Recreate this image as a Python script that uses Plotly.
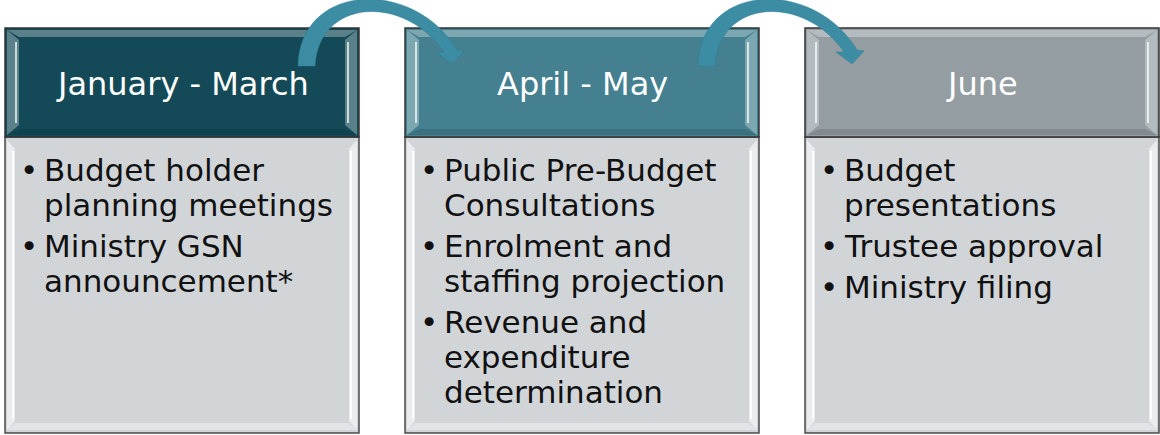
import plotly.graph_objects as go

# ---- data ----
stages = ["January - March", "April - May", "June"]
stage_items = [
    [["Budget holder", "planning meetings"], ["Ministry GSN", "announcement*"]],
    [["Public Pre-Budget", "Consultations"], ["Enrolment and", "staffing projection"],
     ["Revenue and", "expenditure", "determination"]],
    [["Budget", "presentations"], ["Trustee approval"], ["Ministry filing"]],
]
header_colors = ["#144a58", "#44808f", "#949ea2"]
body_color = "#d1d5d8"
arrow_color = "#3c8da3"

# ---- geometry ----
W, H = 1160, 435
box_left0 = 5
box_w = 354
box_gap = 46
header_top, header_bot, body_bot = 28, 137, 433
font_family = "DejaVu Sans"
head_size = 32
body_size = 31
line_step = 35
item_gap = 6
first_line_y = 170

shapes = []
annotations = []

for i, (title, items) in enumerate(zip(stages, stage_items)):
    x0 = box_left0 + i * (box_w + box_gap)
    x1 = x0 + box_w
    cx = (x0 + x1) / 2
    # body
    shapes.append(dict(type="rect", x0=x0, x1=x1, y0=header_bot, y1=body_bot,
                       fillcolor=body_color, line=dict(color="#4a4a4a", width=1.5), layer="below"))
    # body bevel highlights
    shapes.append(dict(type="path",
                       path=f"M {x0+2} {header_bot+3} L {x0+10} {header_bot+12} L {x0+10} {body_bot-12} L {x0+2} {body_bot-3} Z",
                       fillcolor="rgba(255,255,255,0.55)", line=dict(width=0), layer="below"))
    shapes.append(dict(type="path",
                       path=f"M {x1-2} {header_bot+3} L {x1-10} {header_bot+12} L {x1-10} {body_bot-12} L {x1-2} {body_bot-3} Z",
                       fillcolor="rgba(255,255,255,0.55)", line=dict(width=0), layer="below"))
    shapes.append(dict(type="line", x0=x0+8, x1=x0+8, y0=header_bot+14, y1=body_bot-14,
                       line=dict(color="rgba(255,255,255,0.95)", width=2), layer="below"))
    shapes.append(dict(type="line", x0=x1-8, x1=x1-8, y0=header_bot+14, y1=body_bot-14,
                       line=dict(color="rgba(255,255,255,0.95)", width=2), layer="below"))
    shapes.append(dict(type="path",
                       path=f"M {x0+2} {body_bot-3} L {x0+10} {body_bot-10} L {x1-10} {body_bot-10} L {x1-2} {body_bot-3} Z",
                       fillcolor="rgba(255,255,255,0.35)", line=dict(width=0), layer="below"))
    # header
    shapes.append(dict(type="rect", x0=x0, x1=x1, y0=header_top, y1=header_bot,
                       fillcolor=header_colors[i], line=dict(color="#333333", width=1.5), layer="below"))
    shapes.append(dict(type="path",
                       path=f"M {x0+2} {header_top+2} L {x0+14} {header_top+9} L {x1-14} {header_top+9} L {x1-2} {header_top+2} Z",
                       fillcolor="rgba(255,255,255,0.30)", line=dict(width=0), layer="below"))
    shapes.append(dict(type="path",
                       path=f"M {x0+2} {header_top+2} L {x0+14} {header_top+12} L {x0+14} {header_bot-12} L {x0+2} {header_bot-2} Z",
                       fillcolor="rgba(255,255,255,0.30)", line=dict(width=0), layer="below"))
    shapes.append(dict(type="path",
                       path=f"M {x1-2} {header_top+2} L {x1-14} {header_top+12} L {x1-14} {header_bot-12} L {x1-2} {header_bot-2} Z",
                       fillcolor="rgba(255,255,255,0.30)", line=dict(width=0), layer="below"))
    shapes.append(dict(type="line", x0=x0+11, x1=x0+11, y0=header_top+14, y1=header_bot-14,
                       line=dict(color="rgba(255,255,255,0.7)", width=2), layer="below"))
    shapes.append(dict(type="line", x0=x1-11, x1=x1-11, y0=header_top+14, y1=header_bot-14,
                       line=dict(color="rgba(255,255,255,0.7)", width=2), layer="below"))
    shapes.append(dict(type="path",
                       path=f"M {x0+2} {header_bot-2} L {x0+14} {header_bot-8} L {x1-14} {header_bot-8} L {x1-2} {header_bot-2} Z",
                       fillcolor="rgba(0,0,0,0.12)", line=dict(width=0), layer="below"))

    annotations.append(dict(x=cx, y=(header_top + header_bot) / 2 + 1, text=title, showarrow=False,
                            font=dict(family=font_family, size=head_size, color="white"),
                            xanchor="center", yanchor="middle"))
    y = first_line_y
    for item in items:
        annotations.append(dict(x=x0 + 24, y=y, text="•", showarrow=False,
                                font=dict(family=font_family, size=body_size, color="#111111"),
                                xanchor="center", yanchor="middle"))
        for line in item:
            annotations.append(dict(x=x0 + 37, y=y, text=line, showarrow=False,
                                    font=dict(family=font_family, size=body_size, color="#111111"),
                                    xanchor="left", yanchor="middle"))
            y += line_step
        y += item_gap

# curved arrows between headers
for i in range(len(stages) - 1):
    bx = box_left0 + i * (box_w + box_gap) + box_w  # right edge of box i
    sx0, sx1 = bx - 61, bx - 44          # base of shaft
    tip_x, tip_y = bx + 93, 64
    path = (f"M {sx0} 66 C {sx0+2} -18, {bx+55} -22, {tip_x+5} 50 "
            f"L {tip_x+12} 51 L {tip_x} {tip_y} L {tip_x-16} 52 L {tip_x-8} 52 "
            f"C {bx+45} -6, {sx1+4} -2, {sx1} 66 Z")
    shapes.append(dict(type="path", path=path, fillcolor=arrow_color,
                       line=dict(color="#2f7d92", width=0.5), layer="above"))

fig = go.Figure()
fig.update_layout(
    width=W, height=H, margin=dict(l=0, r=0, t=0, b=0),
    paper_bgcolor="white", plot_bgcolor="white",
    xaxis=dict(range=[0, W], visible=False, fixedrange=True),
    yaxis=dict(range=[H, 0], visible=False, fixedrange=True),
    shapes=shapes, annotations=annotations, showlegend=False,
)
fig.write_html("out.html", config={"displayModeBar": False},
               post_script="document.body.style.margin='0';")
